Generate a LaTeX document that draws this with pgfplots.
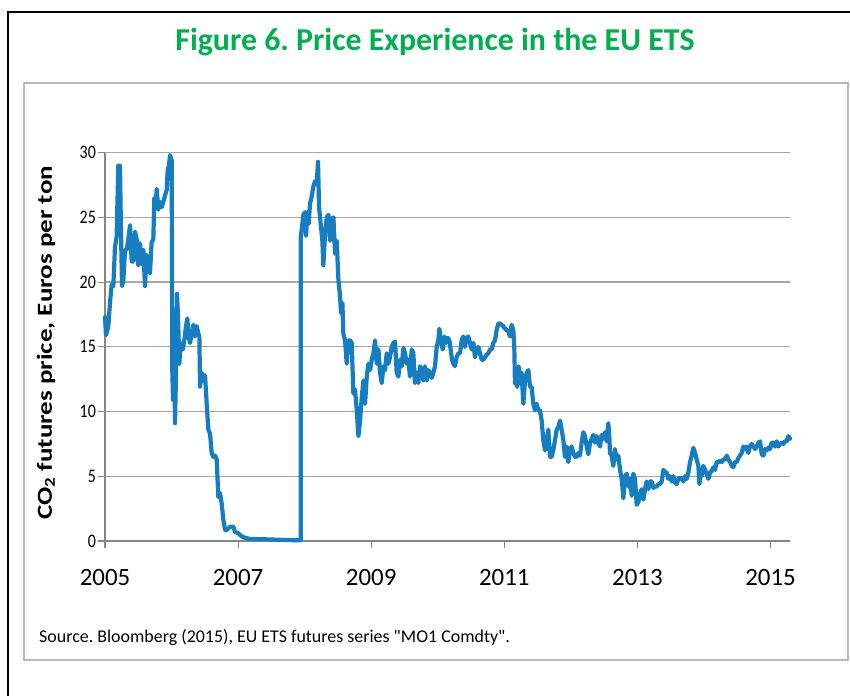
\documentclass[border=0pt]{standalone}
\usepackage{fontspec}
\setmainfont{Carlito}[Ligatures=TeXOff]
\usepackage{pgfplots}
\pgfplotsset{compat=1.18}
\definecolor{ttl}{RGB}{0,176,80}
\definecolor{ser}{RGB}{22,125,192}
\definecolor{gridc}{RGB}{166,166,166}
\definecolor{axc}{RGB}{134,134,134}
\frenchspacing
\begin{document}
\frenchspacing
\begin{tikzpicture}[x=1bp,y=1bp]
\useasboundingbox (0,0) rectangle (850,696);
\fill[white] (0,0) rectangle (850,696);
\draw[black, line width=2bp] (8,-5) -- (8,684) -- (855,684);
\draw[gray!55, line width=1.3bp] (24,36) rectangle (848,613);
\node[font=\fontsize{32}{36}\selectfont\bfseries, text=ttl] at (435,654) {Figure 6. Price Experience in the EU ETS};
\node[anchor=west, font=\fontsize{18}{20}\selectfont, inner sep=0pt] at (39,59) {Source. Bloomberg (2015), EU ETS futures series "MO1 Comdty".};
\begin{axis}[
  at={(105bp,155bp)}, anchor=south west,
  scale only axis, width=685bp, height=388.3bp,
  xmin=2005, xmax=2015.293, ymin=0, ymax=30,
  axis x line=bottom, axis y line=left,
  axis line style={-},
  x axis line style={draw=axc, line width=2bp},
  y axis line style={draw=axc, line width=1.3bp},
  ymajorgrids, grid style={draw=gridc, line width=1.3bp},
  xtick={2005,2007,2009,2011,2013,2015},
  xticklabels={2005,2007,2009,2011,2013,2015},
  ytick={0,5,...,30},
  tick align=outside, major tick length=7bp,
  tick style={draw=axc, line width=1.2bp},
  /pgf/number format/assume math mode=true,
  yticklabel={\scalebox{1}[1.2]{\pgfmathprintnumber{\tick}}},
  x tick label style={font=\fontsize{25}{25}\selectfont, inner sep=0pt, anchor=north, yshift=-21bp},
  y tick label style={font=\fontsize{16}{16}\selectfont, inner sep=0pt, anchor=east, xshift=-2bp},
  ylabel={\scalebox{1.26}[1]{\bfseries CO\textsubscript{2} futures price, Euros per ton}},
  y label style={font=\fontsize{21.5}{22}\selectfont, at={(axis description cs:-0.0861,0.51)}, anchor=center},
  clip=false,
]
\addplot[ser, line width=4.2bp, line join=round, line cap=round] table {
2005.000 17.3
2005.015 15.9
2005.050 16.6
2005.075 18.4
2005.100 19.8
2005.125 19.7
2005.150 22.7
2005.175 23.5
2005.200 29.0
2005.225 29.0
2005.240 24.0
2005.256 19.7
2005.276 20.2
2005.301 22.5
2005.326 22.5
2005.351 23.3
2005.376 24.4
2005.401 21.6
2005.426 21.6
2005.451 23.9
2005.476 23.3
2005.501 21.3
2005.526 23.0
2005.551 21.4
2005.576 22.5
2005.601 19.7
2005.626 22.1
2005.651 20.9
2005.676 20.7
2005.701 23.1
2005.726 23.3
2005.741 26.5
2005.762 26.0
2005.777 27.2
2005.802 25.6
2005.827 26.2
2005.852 25.8
2005.877 26.2
2005.902 26.7
2005.927 27.1
2005.942 28.7
2005.962 29.0
2005.977 29.8
2006.002 29.4
2006.012 13.0
2006.022 10.9
2006.037 16.0
2006.052 9.1
2006.067 13.0
2006.082 19.1
2006.097 17.3
2006.117 13.7
2006.137 15.3
2006.167 14.8
2006.192 15.5
2006.217 16.6
2006.237 17.2
2006.257 15.8
2006.278 15.3
2006.303 16.0
2006.328 16.7
2006.353 15.8
2006.378 16.6
2006.403 16.0
2006.418 15.8
2006.428 11.9
2006.453 13.0
2006.478 12.4
2006.503 12.8
2006.528 10.6
2006.553 8.6
2006.578 8.3
2006.603 6.8
2006.628 6.5
2006.653 6.6
2006.678 6.3
2006.703 3.4
2006.728 3.7
2006.753 2.9
2006.779 1.6
2006.804 0.85
2006.829 0.85
2006.879 1.1
2006.929 1.1
2006.954 0.7
2007.004 0.6
2007.054 0.35
2007.104 0.25
2007.179 0.15
2007.280 0.15
2007.480 0.12
2007.680 0.08
2007.940 0.05
2007.940 23.4
2007.961 24.3
2007.981 25.2
2008.006 25.4
2008.021 23.6
2008.041 25.4
2008.061 24.5
2008.081 26.1
2008.106 26.6
2008.131 27.4
2008.156 27.8
2008.181 27.6
2008.201 29.3
2008.216 25.8
2008.241 24.5
2008.266 23.2
2008.281 21.3
2008.307 23.8
2008.332 25.0
2008.357 25.2
2008.382 23.2
2008.407 24.9
2008.432 25.0
2008.457 22.2
2008.482 23.2
2008.507 20.2
2008.532 18.9
2008.547 17.6
2008.567 18.4
2008.582 16.0
2008.607 15.5
2008.632 13.7
2008.657 15.5
2008.682 15.5
2008.707 15.3
2008.732 11.4
2008.757 11.7
2008.783 10.1
2008.808 8.1
2008.833 9.3
2008.858 11.1
2008.883 12.4
2008.908 10.6
2008.933 12.7
2008.958 13.7
2008.983 13.2
2009.008 14.0
2009.033 14.5
2009.058 15.5
2009.083 13.7
2009.108 14.8
2009.133 13.0
2009.158 12.2
2009.183 13.5
2009.208 13.2
2009.233 14.5
2009.259 13.7
2009.283 14.2
2009.308 15.0
2009.333 15.3
2009.358 15.4
2009.383 13.0
2009.408 12.7
2009.433 14.0
2009.458 13.5
2009.483 14.9
2009.508 14.5
2009.533 13.7
2009.558 14.0
2009.583 12.7
2009.608 14.8
2009.633 14.5
2009.658 12.2
2009.683 13.0
2009.708 12.2
2009.733 13.5
2009.758 13.2
2009.783 12.4
2009.808 13.5
2009.833 12.4
2009.858 13.2
2009.884 13.0
2009.909 12.6
2009.934 13.0
2009.959 13.5
2009.984 15.0
2010.009 15.5
2010.024 16.4
2010.049 15.5
2010.074 14.8
2010.099 15.8
2010.124 15.3
2010.149 15.7
2010.174 15.5
2010.194 14.8
2010.214 14.0
2010.234 13.7
2010.259 13.5
2010.284 14.2
2010.309 14.5
2010.334 14.5
2010.359 15.5
2010.384 15.8
2010.409 15.0
2010.434 15.7
2010.459 15.8
2010.485 15.3
2010.510 14.8
2010.535 15.3
2010.560 14.2
2010.585 14.8
2010.610 15.0
2010.635 14.5
2010.660 14.0
2010.685 14.0
2010.710 14.2
2010.735 14.4
2010.760 14.5
2010.785 14.8
2010.810 14.8
2010.835 15.3
2010.860 15.5
2010.885 16.3
2010.910 16.8
2010.935 16.8
2010.960 16.7
2010.985 16.6
2011.010 16.4
2011.035 16.3
2011.060 16.2
2011.085 15.8
2011.110 16.7
2011.135 16.3
2011.150 15.0
2011.160 12.2
2011.175 13.2
2011.195 11.9
2011.215 13.5
2011.235 12.2
2011.260 13.0
2011.286 10.6
2011.311 12.4
2011.336 13.0
2011.361 13.2
2011.386 11.9
2011.411 11.9
2011.436 10.6
2011.461 10.1
2011.486 10.6
2011.511 10.1
2011.536 10.1
2011.561 9.3
2011.586 7.8
2011.611 7.0
2011.636 7.8
2011.661 8.6
2011.686 6.5
2011.711 6.5
2011.736 7.0
2011.762 7.8
2011.787 8.6
2011.812 8.8
2011.837 9.3
2011.862 8.6
2011.887 7.8
2011.912 6.5
2011.937 7.3
2011.962 6.1
2011.987 7.0
2012.012 7.3
2012.037 6.8
2012.062 6.5
2012.087 6.5
2012.112 6.8
2012.137 6.6
2012.162 7.6
2012.187 8.4
2012.212 8.1
2012.238 7.3
2012.263 6.7
2012.288 7.6
2012.313 7.9
2012.338 8.2
2012.363 7.6
2012.388 8.1
2012.413 7.6
2012.438 7.3
2012.463 8.2
2012.488 7.9
2012.513 8.4
2012.538 7.7
2012.563 9.1
2012.578 8.1
2012.588 6.8
2012.613 6.6
2012.638 5.8
2012.663 7.1
2012.688 6.3
2012.713 6.6
2012.739 5.5
2012.764 4.8
2012.789 3.3
2012.814 5.0
2012.839 5.2
2012.864 4.2
2012.889 4.8
2012.914 3.5
2012.939 5.2
2012.964 4.8
2012.989 2.8
2013.014 3.0
2013.039 3.7
2013.064 4.0
2013.089 3.2
2013.114 4.0
2013.139 4.6
2013.164 4.0
2013.189 4.6
2013.214 4.6
2013.240 4.1
2013.265 4.2
2013.290 4.2
2013.315 4.4
2013.340 4.4
2013.365 4.6
2013.390 5.5
2013.415 5.3
2013.440 5.3
2013.465 4.8
2013.490 5.0
2013.515 4.6
2013.540 5.0
2013.565 4.5
2013.590 4.4
2013.615 4.8
2013.640 4.9
2013.665 4.8
2013.690 4.6
2013.715 5.0
2013.741 4.8
2013.766 5.3
2013.791 6.1
2013.816 6.6
2013.841 7.2
2013.866 6.8
2013.891 6.3
2013.916 5.8
2013.931 4.4
2013.951 5.3
2013.966 5.0
2013.991 5.8
2014.016 5.5
2014.041 5.2
2014.066 4.8
2014.091 5.3
2014.116 5.4
2014.141 5.7
2014.166 5.5
2014.191 6.1
2014.216 6.1
2014.242 6.2
2014.267 6.1
2014.292 6.3
2014.317 6.3
2014.342 6.6
2014.367 6.3
2014.392 6.1
2014.417 5.8
2014.442 5.7
2014.467 6.1
2014.492 6.1
2014.517 6.4
2014.542 6.6
2014.567 6.8
2014.592 7.3
2014.617 7.1
2014.642 7.3
2014.667 6.8
2014.692 7.3
2014.717 7.5
2014.743 7.3
2014.768 7.1
2014.793 7.3
2014.818 7.6
2014.843 7.7
2014.868 6.7
2014.893 6.6
2014.918 7.1
2014.943 7.0
2014.968 7.2
2014.993 7.1
2015.018 7.6
2015.043 7.6
2015.068 7.3
2015.093 7.7
2015.118 7.3
2015.143 7.5
2015.168 7.6
2015.193 7.5
2015.218 7.7
2015.243 7.7
2015.268 8.1
2015.293 7.9
};
\end{axis}
\end{tikzpicture}
\end{document}
